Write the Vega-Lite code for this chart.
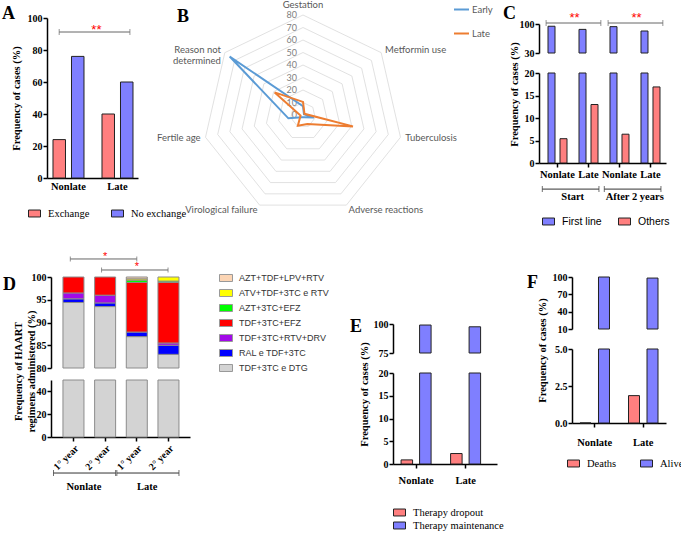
{
"$schema": "https://vega.github.io/schema/vega-lite/v6.json",
"background": "white",
"autosize": {"type": "none"},
"padding": {"left": 46, "top": 18, "right": 640, "bottom": 520},
"bounds": "flush",
"spacing": 259,
"resolve": {"scale": {"color": "independent"}, "legend": {"color": "independent"}},
"config": {
  "view": {"stroke": "transparent"},
  "axis": {"labelFont": "Liberation Serif", "labelFontWeight": "bold", "labelFontSize": 10, "labelColor": "#000", "titleFont": "Liberation Serif", "titleFontWeight": "bold", "titleFontSize": 10.5, "titleColor": "#000", "domainColor": "#000", "domainWidth": 1.5, "tickColor": "#000", "tickWidth": 1.5, "tickSize": 4, "grid": false, "labelPadding": 1, "labelOverlap": false},
  "legend": {"labelFont": "Liberation Serif", "labelFontSize": 10.5, "labelColor": "#000"},
  "title": {"font": "Liberation Serif", "fontSize": 18, "fontWeight": "bold", "anchor": "start", "frame": "group", "color": "#000", "offset": 0, "baseline": "alphabetic"}
},
"datasets": {
  "A": [
    {"group": "Nonlate", "status": "Exchange", "pct": 24},
    {"group": "Nonlate", "status": "No exchange", "pct": 76},
    {"group": "Late", "status": "Exchange", "pct": 40},
    {"group": "Late", "status": "No exchange", "pct": 60}
  ],
  "radar": [
    {"cat": "Gestation", "k": 0, "series": "Early", "value": 7},
    {"cat": "Metformin use", "k": 1, "series": "Early", "value": 1},
    {"cat": "Tuberculosis", "k": 2, "series": "Early", "value": 9},
    {"cat": "Adverse reactions", "k": 3, "series": "Early", "value": 2},
    {"cat": "Virological failure", "k": 4, "series": "Early", "value": 2},
    {"cat": "Fertile age", "k": 5, "series": "Early", "value": 12},
    {"cat": "Reason not determined", "k": 6, "series": "Early", "value": 75},
    {"cat": "Gestation", "k": 0, "series": "Late", "value": 10.5},
    {"cat": "Metformin use", "k": 1, "series": "Late", "value": 1.5},
    {"cat": "Tuberculosis", "k": 2, "series": "Late", "value": 41},
    {"cat": "Adverse reactions", "k": 3, "series": "Late", "value": 8},
    {"cat": "Virological failure", "k": 4, "series": "Late", "value": 9.5},
    {"cat": "Fertile age", "k": 5, "series": "Late", "value": 2},
    {"cat": "Reason not determined", "k": 6, "series": "Late", "value": 29}
  ],
  "radarCats": [
    {"k": 0, "cat": "Gestation"},
    {"k": 1, "cat": "Metformin use"},
    {"k": 2, "cat": "Tuberculosis"},
    {"k": 3, "cat": "Adverse reactions"},
    {"k": 4, "cat": "Virological failure"},
    {"k": 5, "cat": "Fertile age"},
    {"k": 6, "cat": "Reason not\ndetermined"}
  ],
  "rings": [
    {"level": 10, "k": [0,1,2,3,4,5,6]},
    {"level": 20, "k": [0,1,2,3,4,5,6]},
    {"level": 30, "k": [0,1,2,3,4,5,6]},
    {"level": 40, "k": [0,1,2,3,4,5,6]},
    {"level": 50, "k": [0,1,2,3,4,5,6]},
    {"level": 60, "k": [0,1,2,3,4,5,6]},
    {"level": 70, "k": [0,1,2,3,4,5,6]},
    {"level": 80, "k": [0,1,2,3,4,5,6]}
  ],
  "ringLabels": [
    {"level": 0}, {"level": 10}, {"level": 20}, {"level": 30}, {"level": 40},
    {"level": 50}, {"level": 60}, {"level": 70}, {"level": 80}
  ],
  "C": [
    {"col": "S|Nonlate", "line": "First line", "pct": 94.6},
    {"col": "S|Nonlate", "line": "Others", "pct": 5.4},
    {"col": "S|Late", "line": "First line", "pct": 87},
    {"col": "S|Late", "line": "Others", "pct": 13},
    {"col": "A|Nonlate", "line": "First line", "pct": 93.6},
    {"col": "A|Nonlate", "line": "Others", "pct": 6.4},
    {"col": "A|Late", "line": "First line", "pct": 83.1},
    {"col": "A|Late", "line": "Others", "pct": 16.9}
  ],
  "D": [
    {"col": "N|1° year", "reg": "TDF+3TC e DTG", "k": 1, "pct": 94.4},
    {"col": "N|1° year", "reg": "RAL e TDF+3TC", "k": 2, "pct": 0.8},
    {"col": "N|1° year", "reg": "TDF+3TC+RTV+DRV", "k": 3, "pct": 1.3},
    {"col": "N|1° year", "reg": "TDF+3TC+EFZ", "k": 4, "pct": 3.5},
    {"col": "N|2° year", "reg": "TDF+3TC e DTG", "k": 1, "pct": 93.5},
    {"col": "N|2° year", "reg": "RAL e TDF+3TC", "k": 2, "pct": 0.8},
    {"col": "N|2° year", "reg": "TDF+3TC+RTV+DRV", "k": 3, "pct": 1.7},
    {"col": "N|2° year", "reg": "TDF+3TC+EFZ", "k": 4, "pct": 4.0},
    {"col": "L|1° year", "reg": "TDF+3TC e DTG", "k": 1, "pct": 86.9},
    {"col": "L|1° year", "reg": "RAL e TDF+3TC", "k": 2, "pct": 1.0},
    {"col": "L|1° year", "reg": "TDF+3TC+EFZ", "k": 4, "pct": 10.9},
    {"col": "L|1° year", "reg": "AZT+3TC+EFZ", "k": 5, "pct": 0.5},
    {"col": "L|1° year", "reg": "ATV+TDF+3TC e RTV", "k": 6, "pct": 0.3},
    {"col": "L|1° year", "reg": "AZT+TDF+LPV+RTV", "k": 7, "pct": 0.4},
    {"col": "L|2° year", "reg": "TDF+3TC e DTG", "k": 1, "pct": 83.0},
    {"col": "L|2° year", "reg": "RAL e TDF+3TC", "k": 2, "pct": 2.0},
    {"col": "L|2° year", "reg": "TDF+3TC+RTV+DRV", "k": 3, "pct": 0.5},
    {"col": "L|2° year", "reg": "TDF+3TC+EFZ", "k": 4, "pct": 13.3},
    {"col": "L|2° year", "reg": "AZT+3TC+EFZ", "k": 5, "pct": 0.3},
    {"col": "L|2° year", "reg": "ATV+TDF+3TC e RTV", "k": 6, "pct": 0.9}
  ],
  "E": [
    {"grp": "Nonlate", "t": "Therapy dropout", "pct": 0.9},
    {"grp": "Nonlate", "t": "Therapy maintenance", "pct": 99.1},
    {"grp": "Late", "t": "Therapy dropout", "pct": 2.3},
    {"grp": "Late", "t": "Therapy maintenance", "pct": 97.6}
  ],
  "F": [
    {"grp": "Nonlate", "st": "Deaths", "pct": 0},
    {"grp": "Nonlate", "st": "Alive", "pct": 100},
    {"grp": "Late", "st": "Deaths", "pct": 1.85},
    {"grp": "Late", "st": "Alive", "pct": 98.15}
  ]
},
"vconcat": [
{
"hconcat": [
  {"width": 1, "height": 1, "data": {"values": [{}]}, "mark": {"type": "point", "opacity": 0}, "encoding": {}},
  {
    "width": 91, "height": 160,
    "title": {"text": "A", "dx": -45, "dy": 14},
    "data": {"name": "A"},
    "resolve": {"scale": {"y": "independent"}},
    "layer": [
      {"layer": [
        {"transform": [{"filter": "datum.status == 'Exchange'"}],
         "mark": {"type": "bar", "stroke": "#222", "strokeWidth": 1, "width": 12.5, "xOffset": -9.25},
         "encoding": {
           "x": {"field": "group", "type": "nominal", "title": null, "scale": {"type": "band", "domain": ["Nonlate", "Late"], "paddingInner": 0.367, "paddingOuter": 0.112, "align": 0.545}, "axis": {"labelAngle": 0, "labelPadding": 3, "labelFontSize": 10.5, "ticks": false}},
           "y": {"field": "pct", "type": "quantitative", "scale": {"domain": [0, 100], "nice": false, "zero": false}, "axis": {"values": [0, 20, 40, 60, 80, 100], "tickCount": 6, "title": "Frequency of cases (%)", "titleX": -31, "titleY": 80, "titleBaseline": "middle"}},
           "color": {"field": "status", "type": "nominal", "scale": {"domain": ["Exchange", "No exchange"], "range": ["#FF7F7F", "#7F7FFF"]}, "legend": {"title": null, "orient": "none", "legendX": -19, "legendY": 189, "direction": "horizontal", "symbolType": "M-1,-0.58H1V0.58H-1Z", "symbolSize": 144, "symbolStrokeColor": "#222", "symbolStrokeWidth": 1, "labelOffset": 7, "columnPadding": 19}}
         }},
        {"transform": [{"filter": "datum.status == 'No exchange'"}],
         "mark": {"type": "bar", "stroke": "#222", "strokeWidth": 1, "width": 12.5, "xOffset": 9.25},
         "encoding": {
           "x": {"field": "group", "type": "nominal", "title": null, "scale": {"type": "band", "domain": ["Nonlate", "Late"], "paddingInner": 0.367, "paddingOuter": 0.112, "align": 0.545}, "axis": {"labelAngle": 0, "labelPadding": 3, "labelFontSize": 10.5, "ticks": false}},
           "y": {"field": "pct", "type": "quantitative", "scale": {"domain": [0, 100], "nice": false, "zero": false}, "axis": {"values": [0, 20, 40, 60, 80, 100], "tickCount": 6, "title": "Frequency of cases (%)", "titleX": -31, "titleY": 80, "titleBaseline": "middle"}},
           "color": {"field": "status", "type": "nominal", "scale": {"domain": ["Exchange", "No exchange"], "range": ["#FF7F7F", "#7F7FFF"]}, "legend": {"title": null, "orient": "none", "legendX": -19, "legendY": 189, "direction": "horizontal", "symbolType": "M-1,-0.58H1V0.58H-1Z", "symbolSize": 144, "symbolStrokeColor": "#222", "symbolStrokeWidth": 1, "labelOffset": 7, "columnPadding": 19}}
         }}
      ]},
      {"data": {"values": [{"a": "Nonlate", "b": "Late"}]},
       "layer": [
         {"mark": {"type": "rule", "color": "#666", "strokeWidth": 1},
          "encoding": {"x": {"field": "a", "type": "nominal", "title": null, "scale": {"type": "band", "domain": ["Nonlate", "Late"]}, "bandPosition": 0.2}, "x2": {"field": "b", "bandPosition": 0.9}, "y": {"datum": 91.25, "type": "quantitative", "scale": {"domain": [0, 100], "nice": false, "zero": false}, "axis": null}}},
         {"mark": {"type": "tick", "orient": "vertical", "size": 6, "thickness": 1, "color": "#666"},
          "encoding": {"x": {"field": "a", "type": "nominal", "title": null, "scale": {"type": "band", "domain": ["Nonlate", "Late"]}, "bandPosition": 0.2}, "y": {"datum": 91.25, "type": "quantitative", "scale": {"domain": [0, 100], "nice": false, "zero": false}, "axis": null}}},
         {"mark": {"type": "tick", "orient": "vertical", "size": 6, "thickness": 1, "color": "#666"},
          "encoding": {"x": {"field": "b", "type": "nominal", "title": null, "scale": {"type": "band", "domain": ["Nonlate", "Late"]}, "bandPosition": 0.9}, "y": {"datum": 91.25, "type": "quantitative", "scale": {"domain": [0, 100], "nice": false, "zero": false}, "axis": null}}},
         {"mark": {"type": "text", "text": "**", "color": "#FF0000", "font": "Liberation Sans", "fontSize": 13, "baseline": "middle"},
          "encoding": {"x": {"field": "a", "type": "nominal", "title": null, "scale": {"type": "band", "domain": ["Nonlate", "Late"]}, "bandPosition": 1.4}, "y": {"datum": 92.8, "type": "quantitative", "scale": {"domain": [0, 100], "nice": false, "zero": false}, "axis": null}}}
       ]}
    ]
  },
  {"width": 65, "height": 259, "data": {"values": [{}]}, "mark": {"type": "point", "opacity": 0}, "encoding": {}},
  {
    "width": 200, "height": 197,
    "title": {"text": "B", "dx": -26, "dy": 30},
    "layer": [
      {"data": {"name": "rings"},
       "transform": [{"flatten": ["k"]}, {"calculate": "datum.level*sin(2*PI*datum.k/7)", "as": "px"}, {"calculate": "datum.level*cos(2*PI*datum.k/7)", "as": "py"}],
       "mark": {"type": "line", "interpolate": "linear-closed", "color": "#D9D9D9", "strokeWidth": 0.8},
       "encoding": {
         "x": {"field": "px", "type": "quantitative", "scale": {"domain": [-80, 80], "nice": false, "zero": false}, "axis": null},
         "y": {"field": "py", "type": "quantitative", "scale": {"domain": [-80, 77.6], "nice": false, "zero": false}, "axis": null},
         "detail": {"field": "level", "type": "nominal"},
         "order": {"field": "k", "type": "quantitative"}
       }},
      {"data": {"name": "ringLabels"},
       "mark": {"type": "text", "align": "right", "baseline": "middle", "dx": -6, "font": "Lato", "fontSize": 9, "color": "#808080"},
       "encoding": {
         "x": {"datum": 0, "type": "quantitative", "scale": {"domain": [-80, 80], "nice": false, "zero": false}, "axis": null},
         "y": {"field": "level", "type": "quantitative", "scale": {"domain": [-80, 77.6], "nice": false, "zero": false}, "axis": null},
         "text": {"field": "level", "type": "quantitative"}
       }},
      {"data": {"name": "radar"},
       "transform": [{"calculate": "datum.value*sin(2*PI*datum.k/7)", "as": "px"}, {"calculate": "datum.value*cos(2*PI*datum.k/7)", "as": "py"}],
       "mark": {"type": "line", "interpolate": "linear-closed", "strokeWidth": 2},
       "encoding": {
         "x": {"field": "px", "type": "quantitative", "scale": {"domain": [-80, 80], "nice": false, "zero": false}, "axis": null},
         "y": {"field": "py", "type": "quantitative", "scale": {"domain": [-80, 77.6], "nice": false, "zero": false}, "axis": null},
         "color": {"field": "series", "type": "nominal", "scale": {"domain": ["Early", "Late"], "range": ["#5B9BD5", "#ED7D31"]}, "legend": {"title": null, "orient": "none", "legendX": 250, "legendY": -17, "symbolType": "stroke", "symbolSize": 225, "symbolStrokeWidth": 2, "labelFont": "Lato", "labelFontSize": 9.5, "labelColor": "#595959", "rowPadding": 11, "labelOffset": 2}},
         "order": {"field": "k", "type": "quantitative"}
       }},
      {"data": {"name": "radarCats"},
       "transform": [{"filter": "datum.k == 0"}, {"calculate": "84*sin(2*PI*datum.k/7)", "as": "px"}, {"calculate": "84*cos(2*PI*datum.k/7)", "as": "py"}],
       "mark": {"type": "text", "align": "center", "baseline": "middle", "dy": -5, "font": "Lato", "fontSize": 9.5, "color": "#595959"},
       "encoding": {"x": {"field": "px", "type": "quantitative", "scale": {"domain": [-80, 80], "nice": false, "zero": false}, "axis": null}, "y": {"field": "py", "type": "quantitative", "scale": {"domain": [-80, 77.6], "nice": false, "zero": false}, "axis": null}, "text": {"field": "cat", "type": "nominal"}}},
      {"data": {"name": "radarCats"},
       "transform": [{"filter": "datum.k >= 1 && datum.k <= 3"}, {"calculate": "84*sin(2*PI*datum.k/7)", "as": "px"}, {"calculate": "84*cos(2*PI*datum.k/7)", "as": "py"}],
       "mark": {"type": "text", "align": "left", "baseline": "middle", "font": "Lato", "fontSize": 9.5, "color": "#595959"},
       "encoding": {"x": {"field": "px", "type": "quantitative", "scale": {"domain": [-80, 80], "nice": false, "zero": false}, "axis": null}, "y": {"field": "py", "type": "quantitative", "scale": {"domain": [-80, 77.6], "nice": false, "zero": false}, "axis": null}, "text": {"field": "cat", "type": "nominal"}}},
      {"data": {"name": "radarCats"},
       "transform": [{"filter": "datum.k >= 4"}, {"calculate": "84*sin(2*PI*datum.k/7)", "as": "px"}, {"calculate": "84*cos(2*PI*datum.k/7)", "as": "py"}],
       "mark": {"type": "text", "align": "right", "baseline": "middle", "lineBreak": "\n", "font": "Lato", "fontSize": 9.5, "color": "#595959"},
       "encoding": {"x": {"field": "px", "type": "quantitative", "scale": {"domain": [-80, 80], "nice": false, "zero": false}, "axis": null}, "y": {"field": "py", "type": "quantitative", "scale": {"domain": [-80, 77.6], "nice": false, "zero": false}, "axis": null}, "text": {"field": "cat", "type": "nominal"}}}
    ]
  },
  {"width": 136, "height": 1, "data": {"values": [{}]}, "mark": {"type": "point", "opacity": 0}, "encoding": {}},
  {
    "width": 127, "height": 145,
    "title": {"text": "C", "dx": -36, "dy": 15},
    "data": {"name": "C"},
    "resolve": {"scale": {"y": "independent"}},
    "layer": [
      {"transform": [{"filter": "datum.pct > 30"}],
       "mark": {"type": "bar", "stroke": "#222", "strokeWidth": 1, "width": 7, "xOffset": -6},
       "encoding": {
         "x": {"field": "col", "type": "nominal", "title": null, "scale": {"type": "band", "domain": ["S|Nonlate", "S|Late", "A|Nonlate", "A|Late"], "paddingInner": 0.387, "paddingOuter": 0.242, "align": 0.6}, "axis": {"labelAngle": 0, "labelPadding": 2, "labelFontSize": 10.5, "labelExpr": "split(datum.label,'|')[1]"}},
         "y": {"field": "pct", "type": "quantitative", "scale": {"domain": [30, 100], "range": [35, 6], "clamp": true, "nice": false, "zero": false}, "axis": {"orient": "left", "values": [30, 100], "title": null}},
         "y2": {"datum": 0},
         "color": {"field": "line", "type": "nominal", "scale": {"domain": ["First line", "Others"], "range": ["#7F7FFF", "#FF7F7F"]}, "legend": {"title": null, "orient": "none", "legendX": 3, "legendY": 197, "direction": "horizontal", "symbolType": "M-1,-0.58H1V0.58H-1Z", "symbolSize": 144, "symbolStrokeColor": "#222", "symbolStrokeWidth": 1, "labelFont": "Liberation Sans", "labelFontSize": 10.5, "labelOffset": 7, "columnPadding": 14}}
       }},
      {"data": {"values": [{"a": "S|Nonlate", "b": "S|Late"}, {"a": "A|Nonlate", "b": "A|Late"}]},
       "layer": [
         {"mark": {"type": "rule", "color": "#666", "strokeWidth": 1},
          "encoding": {"x": {"field": "a", "type": "nominal", "title": null, "scale": {"type": "band", "domain": ["S|Nonlate", "S|Late", "A|Nonlate", "A|Late"]}, "bandPosition": -0.1}, "x2": {"field": "b", "bandPosition": 1.15}, "y": {"datum": 102.4, "type": "quantitative", "scale": {"domain": [30, 100], "range": [35, 6], "nice": false, "zero": false}, "axis": null}}},
         {"mark": {"type": "tick", "orient": "vertical", "size": 6, "thickness": 1, "color": "#666"},
          "encoding": {"x": {"field": "a", "type": "nominal", "title": null, "scale": {"type": "band", "domain": ["S|Nonlate", "S|Late", "A|Nonlate", "A|Late"]}, "bandPosition": -0.1}, "y": {"datum": 102.4, "type": "quantitative", "scale": {"domain": [30, 100], "range": [35, 6], "nice": false, "zero": false}, "axis": null}}},
         {"mark": {"type": "tick", "orient": "vertical", "size": 6, "thickness": 1, "color": "#666"},
          "encoding": {"x": {"field": "b", "type": "nominal", "title": null, "scale": {"type": "band", "domain": ["S|Nonlate", "S|Late", "A|Nonlate", "A|Late"]}, "bandPosition": 1.15}, "y": {"datum": 102.4, "type": "quantitative", "scale": {"domain": [30, 100], "range": [35, 6], "nice": false, "zero": false}, "axis": null}}},
         {"mark": {"type": "text", "text": "**", "color": "#FF0000", "font": "Liberation Sans", "fontSize": 13, "baseline": "middle"},
          "encoding": {"x": {"field": "a", "type": "nominal", "title": null, "scale": {"type": "band", "domain": ["S|Nonlate", "S|Late", "A|Nonlate", "A|Late"]}, "bandPosition": 1.4}, "y": {"datum": 114.5, "type": "quantitative", "scale": {"domain": [30, 100], "range": [35, 6], "nice": false, "zero": false}, "axis": null}}}
       ]},
      {"layer": [
        {"transform": [{"filter": "datum.line == 'First line'"}],
         "mark": {"type": "bar", "stroke": "#222", "strokeWidth": 1, "width": 7, "xOffset": -6},
         "encoding": {
           "x": {"field": "col", "type": "nominal", "title": null, "scale": {"type": "band", "domain": ["S|Nonlate", "S|Late", "A|Nonlate", "A|Late"], "paddingInner": 0.387, "paddingOuter": 0.242, "align": 0.6}, "axis": {"labelAngle": 0, "labelPadding": 2, "labelFontSize": 10.5, "labelExpr": "split(datum.label,'|')[1]"}},
           "y": {"field": "pct", "type": "quantitative", "scale": {"domain": [0, 20], "range": [145, 55], "clamp": true, "nice": false, "zero": false}, "axis": {"orient": "left", "values": [0, 5, 10, 15, 20], "title": "Frequency of cases (%)", "titleX": -25, "titleY": 76, "titleBaseline": "middle"}},
           "y2": {"datum": 0},
           "color": {"field": "line", "type": "nominal", "scale": {"domain": ["First line", "Others"], "range": ["#7F7FFF", "#FF7F7F"]}, "legend": {"title": null, "orient": "none", "legendX": 3, "legendY": 197, "direction": "horizontal", "symbolType": "M-1,-0.58H1V0.58H-1Z", "symbolSize": 144, "symbolStrokeColor": "#222", "symbolStrokeWidth": 1, "labelFont": "Liberation Sans", "labelFontSize": 10.5, "labelOffset": 7, "columnPadding": 14}}
         }},
        {"transform": [{"filter": "datum.line == 'Others'"}],
         "mark": {"type": "bar", "stroke": "#222", "strokeWidth": 1, "width": 7, "xOffset": 6},
         "encoding": {
           "x": {"field": "col", "type": "nominal", "title": null, "scale": {"type": "band", "domain": ["S|Nonlate", "S|Late", "A|Nonlate", "A|Late"], "paddingInner": 0.387, "paddingOuter": 0.242, "align": 0.6}, "axis": {"labelAngle": 0, "labelPadding": 2, "labelFontSize": 10.5, "labelExpr": "split(datum.label,'|')[1]"}},
           "y": {"field": "pct", "type": "quantitative", "scale": {"domain": [0, 20], "range": [145, 55], "clamp": true, "nice": false, "zero": false}, "axis": {"orient": "left", "values": [0, 5, 10, 15, 20], "title": "Frequency of cases (%)", "titleX": -25, "titleY": 76, "titleBaseline": "middle"}},
           "y2": {"datum": 0},
           "color": {"field": "line", "type": "nominal", "scale": {"domain": ["First line", "Others"], "range": ["#7F7FFF", "#FF7F7F"]}, "legend": {"title": null, "orient": "none", "legendX": 3, "legendY": 197, "direction": "horizontal", "symbolType": "M-1,-0.58H1V0.58H-1Z", "symbolSize": 144, "symbolStrokeColor": "#222", "symbolStrokeWidth": 1, "labelFont": "Liberation Sans", "labelFontSize": 10.5, "labelOffset": 7, "columnPadding": 14}}
         }}
      ]},
      {"data": {"values": [{"a": "S|Nonlate", "b": "S|Late", "label": "Start"}, {"a": "A|Nonlate", "b": "A|Late", "label": "After 2 years"}]},
       "layer": [
         {"mark": {"type": "rule", "color": "#333", "strokeWidth": 1},
          "encoding": {"x": {"field": "a", "type": "nominal", "title": null, "scale": {"type": "band", "domain": ["S|Nonlate", "S|Late", "A|Nonlate", "A|Late"]}, "bandPosition": -0.3}, "x2": {"field": "b", "bandPosition": 1.05}, "y": {"datum": -5.8, "type": "quantitative", "scale": {"domain": [0, 20], "range": [145, 55], "nice": false, "zero": false}, "axis": null}}},
         {"mark": {"type": "tick", "orient": "vertical", "size": 6, "thickness": 1, "color": "#333"},
          "encoding": {"x": {"field": "a", "type": "nominal", "title": null, "scale": {"type": "band", "domain": ["S|Nonlate", "S|Late", "A|Nonlate", "A|Late"]}, "bandPosition": -0.3}, "y": {"datum": -5.8, "type": "quantitative", "scale": {"domain": [0, 20], "range": [145, 55], "nice": false, "zero": false}, "axis": null}}},
         {"mark": {"type": "tick", "orient": "vertical", "size": 6, "thickness": 1, "color": "#333"},
          "encoding": {"x": {"field": "b", "type": "nominal", "title": null, "scale": {"type": "band", "domain": ["S|Nonlate", "S|Late", "A|Nonlate", "A|Late"]}, "bandPosition": 1.05}, "y": {"datum": -5.8, "type": "quantitative", "scale": {"domain": [0, 20], "range": [145, 55], "nice": false, "zero": false}, "axis": null}}},
         {"mark": {"type": "text", "font": "Liberation Serif", "fontWeight": "bold", "fontSize": 10.5, "baseline": "middle", "color": "#000"},
          "encoding": {"x": {"field": "a", "type": "nominal", "title": null, "scale": {"type": "band", "domain": ["S|Nonlate", "S|Late", "A|Nonlate", "A|Late"]}, "bandPosition": 1.3}, "y": {"datum": -7.6, "type": "quantitative", "scale": {"domain": [0, 20], "range": [145, 55], "nice": false, "zero": false}, "axis": null}, "text": {"field": "label", "type": "nominal"}}}
       ]}
    ]
  }
],
"bounds": "flush",
"spacing": 0,
"resolve": {"scale": {"color": "independent"}, "legend": {"color": "independent"}}
},
{
"hconcat": [
  {"width": 5, "height": 1, "data": {"values": [{}]}, "mark": {"type": "point", "opacity": 0}, "encoding": {}},
  {
    "width": 139, "height": 160,
    "title": {"text": "D", "dx": -48, "dy": 47},
    "data": {"name": "D"},
    "resolve": {"scale": {"y": "independent"}},
    "layer": [
      {"transform": [{"stack": "pct", "groupby": ["col"], "sort": [{"field": "k", "order": "ascending"}], "as": ["s0", "s1"]}, {"filter": "datum.s1 > 80"}],
       "mark": {"type": "bar", "stroke": "#8C8C8C", "strokeWidth": 1},
       "encoding": {
         "x": {"field": "col", "type": "nominal", "title": null, "scale": {"type": "band", "domain": ["N|1° year", "N|2° year", "L|1° year", "L|2° year"], "paddingInner": 0.337, "paddingOuter": 0.363, "align": 0.52}, "axis": {"labelAngle": -45, "labelExpr": "split(datum.label,'|')[1]", "labelPadding": 2, "labelFontSize": 10}},
         "y": {"field": "s1", "type": "quantitative", "scale": {"domain": [80, 100], "range": [91, 0], "clamp": true, "nice": false, "zero": false}, "axis": {"orient": "left", "values": [80, 85, 90, 95, 100], "title": null}},
         "y2": {"field": "s0"},
         "color": {"field": "reg", "type": "nominal", "scale": {"domain": ["AZT+TDF+LPV+RTV", "ATV+TDF+3TC e RTV", "AZT+3TC+EFZ", "TDF+3TC+EFZ", "TDF+3TC+RTV+DRV", "RAL e TDF+3TC", "TDF+3TC e DTG"], "range": ["#FCD5B4", "#FFFF00", "#00FF00", "#FF0000", "#A20AE8", "#0000FF", "#D3D3D3"]}, "legend": {"title": null, "orient": "none", "legendX": 168, "legendY": -6, "symbolType": "M-1,-0.54H1V0.54H-1Z", "symbolSize": 169, "symbolStrokeColor": "#999", "symbolStrokeWidth": 1, "labelFont": "Liberation Sans", "labelFontSize": 9, "labelColor": "#333", "labelOffset": 6, "rowPadding": 2}}
       }},
      {"data": {"values": [{"a": "N|1° year", "b": "L|1° year", "c": "N|2° year"}]},
       "layer": [
         {"mark": {"type": "rule", "color": "#666", "strokeWidth": 1},
          "encoding": {"x": {"field": "a", "type": "nominal", "title": null, "scale": {"type": "band", "domain": ["N|1° year", "N|2° year", "L|1° year", "L|2° year"]}, "bandPosition": 0.35}, "x2": {"field": "b", "bandPosition": 0.5}, "y": {"datum": 103.96, "type": "quantitative", "scale": {"domain": [80, 100], "range": [91, 0], "nice": false, "zero": false}, "axis": null}}},
         {"mark": {"type": "tick", "orient": "vertical", "size": 5, "thickness": 1, "color": "#666"},
          "encoding": {"x": {"field": "a", "type": "nominal", "title": null, "scale": {"type": "band", "domain": ["N|1° year", "N|2° year", "L|1° year", "L|2° year"]}, "bandPosition": 0.35}, "y": {"datum": 103.96, "type": "quantitative", "scale": {"domain": [80, 100], "range": [91, 0], "nice": false, "zero": false}, "axis": null}}},
         {"mark": {"type": "tick", "orient": "vertical", "size": 5, "thickness": 1, "color": "#666"},
          "encoding": {"x": {"field": "b", "type": "nominal", "title": null, "scale": {"type": "band", "domain": ["N|1° year", "N|2° year", "L|1° year", "L|2° year"]}, "bandPosition": 0.5}, "y": {"datum": 103.96, "type": "quantitative", "scale": {"domain": [80, 100], "range": [91, 0], "nice": false, "zero": false}, "axis": null}}},
         {"mark": {"type": "text", "text": "*", "color": "#FF0000", "font": "Liberation Sans", "fontSize": 11, "baseline": "middle"},
          "encoding": {"x": {"field": "c", "type": "nominal", "title": null, "scale": {"type": "band", "domain": ["N|1° year", "N|2° year", "L|1° year", "L|2° year"]}, "bandPosition": 0.5}, "y": {"datum": 104.5, "type": "quantitative", "scale": {"domain": [80, 100], "range": [91, 0], "nice": false, "zero": false}, "axis": null}}}
       ]},
      {"data": {"values": [{"a": "N|2° year", "b": "L|2° year", "c": "L|1° year"}]},
       "layer": [
         {"mark": {"type": "rule", "color": "#666", "strokeWidth": 1},
          "encoding": {"x": {"field": "a", "type": "nominal", "title": null, "scale": {"type": "band", "domain": ["N|1° year", "N|2° year", "L|1° year", "L|2° year"]}, "bandPosition": 0.33}, "x2": {"field": "b", "bandPosition": 0.48}, "y": {"datum": 101.54, "type": "quantitative", "scale": {"domain": [80, 100], "range": [91, 0], "nice": false, "zero": false}, "axis": null}}},
         {"mark": {"type": "tick", "orient": "vertical", "size": 5, "thickness": 1, "color": "#666"},
          "encoding": {"x": {"field": "a", "type": "nominal", "title": null, "scale": {"type": "band", "domain": ["N|1° year", "N|2° year", "L|1° year", "L|2° year"]}, "bandPosition": 0.33}, "y": {"datum": 101.54, "type": "quantitative", "scale": {"domain": [80, 100], "range": [91, 0], "nice": false, "zero": false}, "axis": null}}},
         {"mark": {"type": "tick", "orient": "vertical", "size": 5, "thickness": 1, "color": "#666"},
          "encoding": {"x": {"field": "b", "type": "nominal", "title": null, "scale": {"type": "band", "domain": ["N|1° year", "N|2° year", "L|1° year", "L|2° year"]}, "bandPosition": 0.48}, "y": {"datum": 101.54, "type": "quantitative", "scale": {"domain": [80, 100], "range": [91, 0], "nice": false, "zero": false}, "axis": null}}},
         {"mark": {"type": "text", "text": "*", "color": "#FF0000", "font": "Liberation Sans", "fontSize": 11, "baseline": "middle"},
          "encoding": {"x": {"field": "c", "type": "nominal", "title": null, "scale": {"type": "band", "domain": ["N|1° year", "N|2° year", "L|1° year", "L|2° year"]}, "bandPosition": 0.5}, "y": {"datum": 102.3, "type": "quantitative", "scale": {"domain": [80, 100], "range": [91, 0], "nice": false, "zero": false}, "axis": null}}}
       ]},
      {"transform": [{"stack": "pct", "groupby": ["col"], "sort": [{"field": "k", "order": "ascending"}], "as": ["s0", "s1"]}, {"filter": "datum.s0 < 50"}],
       "mark": {"type": "bar", "stroke": "#8C8C8C", "strokeWidth": 1},
       "encoding": {
         "x": {"field": "col", "type": "nominal", "title": null, "scale": {"type": "band", "domain": ["N|1° year", "N|2° year", "L|1° year", "L|2° year"], "paddingInner": 0.337, "paddingOuter": 0.363, "align": 0.52}, "axis": {"labelAngle": -45, "labelExpr": "split(datum.label,'|')[1]", "labelPadding": 2, "labelFontSize": 10}},
         "y": {"field": "s1", "type": "quantitative", "scale": {"domain": [0, 50], "range": [160, 103], "clamp": true, "nice": false, "zero": false}, "axis": {"orient": "left", "values": [0, 20, 40], "title": ["Frequency of HAART", "regimens administered (%)"], "titleX": -32.5, "titleY": 94, "titleBaseline": "middle"}},
         "y2": {"field": "s0"},
         "color": {"field": "reg", "type": "nominal", "scale": {"domain": ["AZT+TDF+LPV+RTV", "ATV+TDF+3TC e RTV", "AZT+3TC+EFZ", "TDF+3TC+EFZ", "TDF+3TC+RTV+DRV", "RAL e TDF+3TC", "TDF+3TC e DTG"], "range": ["#FCD5B4", "#FFFF00", "#00FF00", "#FF0000", "#A20AE8", "#0000FF", "#D3D3D3"]}, "legend": {"title": null, "orient": "none", "legendX": 168, "legendY": -6, "symbolType": "M-1,-0.54H1V0.54H-1Z", "symbolSize": 169, "symbolStrokeColor": "#999", "symbolStrokeWidth": 1, "labelFont": "Liberation Sans", "labelFontSize": 9, "labelColor": "#333", "labelOffset": 6, "rowPadding": 2}}
       }},
      {"data": {"values": [{"a": "N|1° year", "b": "N|2° year", "label": "Nonlate"}, {"a": "L|1° year", "b": "L|2° year", "label": "Late"}]},
       "layer": [
         {"mark": {"type": "rule", "color": "#333", "strokeWidth": 1},
          "encoding": {"x": {"field": "a", "type": "nominal", "title": null, "scale": {"type": "band", "domain": ["N|1° year", "N|2° year", "L|1° year", "L|2° year"]}, "bandPosition": -0.45}, "x2": {"field": "b", "bandPosition": 1.0}, "y": {"datum": -31.6, "type": "quantitative", "scale": {"domain": [0, 50], "range": [160, 103], "nice": false, "zero": false}, "axis": null}}},
         {"mark": {"type": "tick", "orient": "vertical", "size": 6, "thickness": 1, "color": "#333"},
          "encoding": {"x": {"field": "a", "type": "nominal", "title": null, "scale": {"type": "band", "domain": ["N|1° year", "N|2° year", "L|1° year", "L|2° year"]}, "bandPosition": -0.45}, "y": {"datum": -31.6, "type": "quantitative", "scale": {"domain": [0, 50], "range": [160, 103], "nice": false, "zero": false}, "axis": null}}},
         {"mark": {"type": "tick", "orient": "vertical", "size": 6, "thickness": 1, "color": "#333"},
          "encoding": {"x": {"field": "b", "type": "nominal", "title": null, "scale": {"type": "band", "domain": ["N|1° year", "N|2° year", "L|1° year", "L|2° year"]}, "bandPosition": 1.0}, "y": {"datum": -31.6, "type": "quantitative", "scale": {"domain": [0, 50], "range": [160, 103], "nice": false, "zero": false}, "axis": null}}},
         {"mark": {"type": "text", "font": "Liberation Serif", "fontWeight": "bold", "fontSize": 10.5, "baseline": "middle", "color": "#000"},
          "encoding": {"x": {"field": "a", "type": "nominal", "title": null, "scale": {"type": "band", "domain": ["N|1° year", "N|2° year", "L|1° year", "L|2° year"]}, "bandPosition": 1.0}, "y": {"datum": -43.9, "type": "quantitative", "scale": {"domain": [0, 50], "range": [160, 103], "nice": false, "zero": false}, "axis": null}, "text": {"field": "label", "type": "nominal"}}}
       ]}
    ]
  },
  {"width": 203, "height": 1, "data": {"values": [{}]}, "mark": {"type": "point", "opacity": 0}, "encoding": {}},
  {
    "width": 104, "height": 187,
    "title": {"text": "E", "dx": -43, "dy": 63},
    "data": {"name": "E"},
    "resolve": {"scale": {"y": "independent"}},
    "layer": [
      {"transform": [{"filter": "datum.pct > 75"}],
       "mark": {"type": "bar", "stroke": "#222", "strokeWidth": 1, "width": 11.5, "xOffset": 9.25},
       "encoding": {
         "x": {"field": "grp", "type": "nominal", "title": null, "scale": {"type": "band", "domain": ["Nonlate", "Late"], "paddingInner": 0.394, "paddingOuter": 0.247, "align": 0.33}, "axis": {"labelAngle": 0, "labelPadding": 7, "labelFontSize": 10.5}},
         "y": {"field": "pct", "type": "quantitative", "scale": {"domain": [75, 100], "range": [76, 47], "clamp": true, "nice": false, "zero": false}, "axis": {"orient": "left", "values": [75, 100], "title": null}},
         "y2": {"datum": 0},
         "color": {"field": "t", "type": "nominal", "scale": {"domain": ["Therapy dropout", "Therapy maintenance"], "range": ["#FF7F7F", "#7F7FFF"]}, "legend": {"title": null, "orient": "none", "legendX": 0, "legendY": 229, "direction": "vertical", "symbolType": "M-1,-0.58H1V0.58H-1Z", "symbolSize": 144, "symbolStrokeColor": "#222", "symbolStrokeWidth": 1, "labelOffset": 7, "rowPadding": 1}}
       }},
      {"layer": [
        {"transform": [{"filter": "datum.t == 'Therapy dropout'"}],
         "mark": {"type": "bar", "stroke": "#222", "strokeWidth": 1, "width": 11.5, "xOffset": -9.25},
         "encoding": {
           "x": {"field": "grp", "type": "nominal", "title": null, "scale": {"type": "band", "domain": ["Nonlate", "Late"], "paddingInner": 0.394, "paddingOuter": 0.247, "align": 0.33}, "axis": {"labelAngle": 0, "labelPadding": 7, "labelFontSize": 10.5}},
           "y": {"field": "pct", "type": "quantitative", "scale": {"domain": [0, 20], "range": [187, 96], "clamp": true, "nice": false, "zero": false}, "axis": {"orient": "left", "values": [0, 5, 10, 15, 20], "title": "Frequency of cases (%)", "titleX": -29, "titleY": 117, "titleBaseline": "middle"}},
           "y2": {"datum": 0},
           "color": {"field": "t", "type": "nominal", "scale": {"domain": ["Therapy dropout", "Therapy maintenance"], "range": ["#FF7F7F", "#7F7FFF"]}, "legend": {"title": null, "orient": "none", "legendX": 0, "legendY": 229, "direction": "vertical", "symbolType": "M-1,-0.58H1V0.58H-1Z", "symbolSize": 144, "symbolStrokeColor": "#222", "symbolStrokeWidth": 1, "labelOffset": 7, "rowPadding": 1}}
         }},
        {"transform": [{"filter": "datum.t == 'Therapy maintenance'"}],
         "mark": {"type": "bar", "stroke": "#222", "strokeWidth": 1, "width": 11.5, "xOffset": 9.25},
         "encoding": {
           "x": {"field": "grp", "type": "nominal", "title": null, "scale": {"type": "band", "domain": ["Nonlate", "Late"], "paddingInner": 0.394, "paddingOuter": 0.247, "align": 0.33}, "axis": {"labelAngle": 0, "labelPadding": 7, "labelFontSize": 10.5}},
           "y": {"field": "pct", "type": "quantitative", "scale": {"domain": [0, 20], "range": [187, 96], "clamp": true, "nice": false, "zero": false}, "axis": {"orient": "left", "values": [0, 5, 10, 15, 20], "title": "Frequency of cases (%)", "titleX": -29, "titleY": 117, "titleBaseline": "middle"}},
           "y2": {"datum": 0},
           "color": {"field": "t", "type": "nominal", "scale": {"domain": ["Therapy dropout", "Therapy maintenance"], "range": ["#FF7F7F", "#7F7FFF"]}, "legend": {"title": null, "orient": "none", "legendX": 0, "legendY": 229, "direction": "vertical", "symbolType": "M-1,-0.58H1V0.58H-1Z", "symbolSize": 144, "symbolStrokeColor": "#222", "symbolStrokeWidth": 1, "labelOffset": 7, "rowPadding": 1}}
         }}
      ]}
    ]
  },
  {"width": 75, "height": 1, "data": {"values": [{}]}, "mark": {"type": "point", "opacity": 0}, "encoding": {}},
  {
    "width": 94, "height": 146,
    "title": {"text": "F", "dx": -45, "dy": 24},
    "data": {"name": "F"},
    "resolve": {"scale": {"y": "independent"}},
    "layer": [
      {"transform": [{"filter": "datum.pct > 10"}],
       "mark": {"type": "bar", "stroke": "#222", "strokeWidth": 1, "width": 11, "xOffset": 9.25},
       "encoding": {
         "x": {"field": "grp", "type": "nominal", "title": null, "scale": {"type": "band", "domain": ["Nonlate", "Late"], "paddingInner": 0.39, "paddingOuter": 0.164, "align": 0.5}, "axis": {"labelAngle": 0, "labelPadding": 10, "labelFontSize": 10.5}},
         "y": {"field": "pct", "type": "quantitative", "scale": {"domain": [10, 100], "range": [52, 0], "clamp": true, "nice": false, "zero": false}, "axis": {"orient": "left", "values": [10, 40, 70, 100], "title": null}},
         "y2": {"datum": 0},
         "color": {"field": "st", "type": "nominal", "scale": {"domain": ["Deaths", "Alive"], "range": ["#FF7F7F", "#7F7FFF"]}, "legend": {"title": null, "orient": "none", "legendX": -5, "legendY": 180, "direction": "horizontal", "symbolType": "M-1,-0.58H1V0.58H-1Z", "symbolSize": 144, "symbolStrokeColor": "#222", "symbolStrokeWidth": 1, "labelOffset": 7, "columnPadding": 21}}
       }},
      {"layer": [
        {"transform": [{"filter": "datum.st == 'Deaths'"}],
         "mark": {"type": "bar", "stroke": "#222", "strokeWidth": 1, "width": 11, "xOffset": -9.25},
         "encoding": {
           "x": {"field": "grp", "type": "nominal", "title": null, "scale": {"type": "band", "domain": ["Nonlate", "Late"], "paddingInner": 0.39, "paddingOuter": 0.164, "align": 0.5}, "axis": {"labelAngle": 0, "labelPadding": 10, "labelFontSize": 10.5}},
           "y": {"field": "pct", "type": "quantitative", "scale": {"domain": [0, 5], "range": [146, 72], "clamp": true, "nice": false, "zero": false}, "axis": {"orient": "left", "values": [0, 2.5, 5], "format": ".1f", "title": "Frequency of cases (%)", "titleX": -30, "titleY": 73, "titleBaseline": "middle"}},
           "y2": {"datum": 0},
           "color": {"field": "st", "type": "nominal", "scale": {"domain": ["Deaths", "Alive"], "range": ["#FF7F7F", "#7F7FFF"]}, "legend": {"title": null, "orient": "none", "legendX": -5, "legendY": 180, "direction": "horizontal", "symbolType": "M-1,-0.58H1V0.58H-1Z", "symbolSize": 144, "symbolStrokeColor": "#222", "symbolStrokeWidth": 1, "labelOffset": 7, "columnPadding": 21}}
         }},
        {"transform": [{"filter": "datum.st == 'Alive'"}],
         "mark": {"type": "bar", "stroke": "#222", "strokeWidth": 1, "width": 11, "xOffset": 9.25},
         "encoding": {
           "x": {"field": "grp", "type": "nominal", "title": null, "scale": {"type": "band", "domain": ["Nonlate", "Late"], "paddingInner": 0.39, "paddingOuter": 0.164, "align": 0.5}, "axis": {"labelAngle": 0, "labelPadding": 10, "labelFontSize": 10.5}},
           "y": {"field": "pct", "type": "quantitative", "scale": {"domain": [0, 5], "range": [146, 72], "clamp": true, "nice": false, "zero": false}, "axis": {"orient": "left", "values": [0, 2.5, 5], "format": ".1f", "title": "Frequency of cases (%)", "titleX": -30, "titleY": 73, "titleBaseline": "middle"}},
           "y2": {"datum": 0},
           "color": {"field": "st", "type": "nominal", "scale": {"domain": ["Deaths", "Alive"], "range": ["#FF7F7F", "#7F7FFF"]}, "legend": {"title": null, "orient": "none", "legendX": -5, "legendY": 180, "direction": "horizontal", "symbolType": "M-1,-0.58H1V0.58H-1Z", "symbolSize": 144, "symbolStrokeColor": "#222", "symbolStrokeWidth": 1, "labelOffset": 7, "columnPadding": 21}}
         }}
      ]}
    ]
  }
],
"bounds": "flush",
"spacing": 0,
"resolve": {"scale": {"color": "independent"}, "legend": {"color": "independent"}}
}
]
}
